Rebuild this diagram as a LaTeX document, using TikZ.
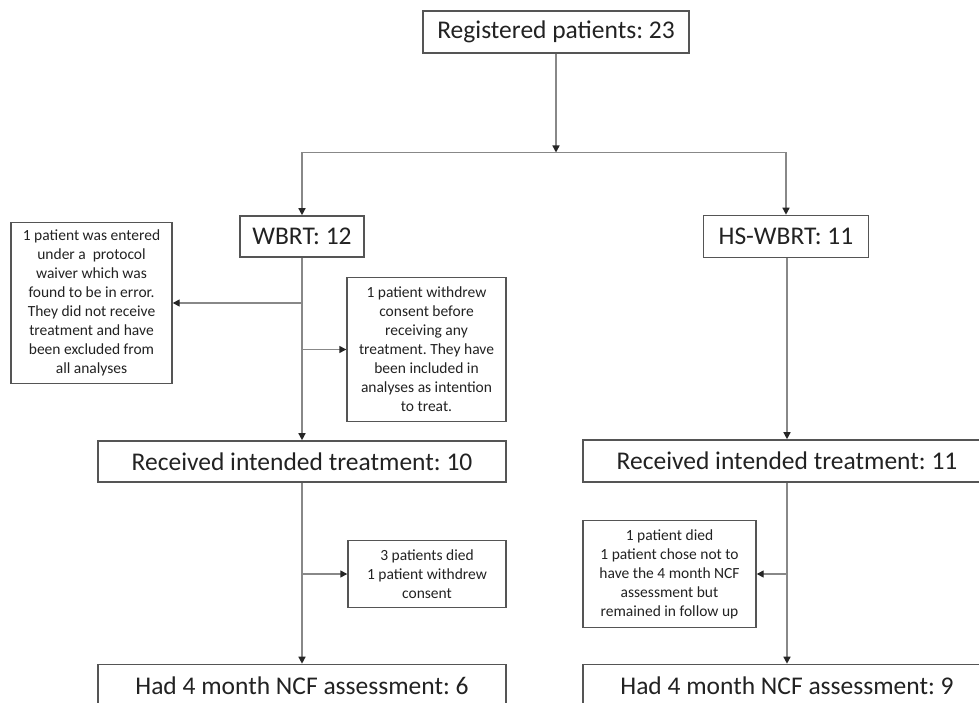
\documentclass[tikz,border=0pt]{standalone}
\usepackage{fontspec}
\setmainfont{Carlito}
\frenchspacing
\usetikzlibrary{arrows.meta}
\definecolor{boxline}{HTML}{555555}
\definecolor{conline}{HTML}{888888}
\definecolor{txt}{HTML}{222222}
\tikzset{
  bigbox/.style={draw=boxline, line width=1.6pt, text=txt, inner sep=0pt,
    font=\fontsize{25.5}{30}\selectfont},
  notebox/.style={draw=boxline, line width=1.4pt, text=txt, inner sep=0pt, align=center,
    font=\fontsize{15.5}{19}\selectfont},
  con/.style={draw=conline, line width=1.4pt},
  arr/.style={con, -{Triangle[length=7pt,width=7pt,color=black!85]}}
}
\begin{document}
\begin{tikzpicture}[x=1pt,y=-1pt]
\useasboundingbox (0,0) rectangle (979,703);
\clip (0,0) rectangle (979,703);
\fill[white] (0,0) rectangle (979,703);

\node[bigbox, minimum width=266pt, minimum height=42pt] (reg) at (556,32) {Registered patients: 23};
\node[bigbox, minimum width=124pt, minimum height=41pt] (wbrt) at (302,236.5) {WBRT: 12};
\node[bigbox, minimum width=165pt, minimum height=42pt] (hs) at (786,236.5) {HS-WBRT: 11};

\node[notebox, minimum width=161pt, minimum height=161pt] (noteA) at (91.5,303) {1 patient was entered\\under a\ \ protocol\\waiver which was\\found to be in error.\\They did not receive\\treatment and have\\been excluded from\\all analyses};
\node[notebox, minimum width=159pt, minimum height=144pt] (noteB) at (426.5,349.5) {1 patient withdrew\\consent before\\receiving any\\treatment. They have\\been included in\\analyses as intention\\to treat.};

\node[bigbox, minimum width=408pt, minimum height=41pt] (recL) at (302,461.5) {Received intended treatment: 10};
\node[bigbox, minimum width=408pt, minimum height=42pt] (recR) at (787,461) {Received intended treatment: 11};

\node[notebox, minimum width=158pt, minimum height=67pt] (noteC) at (427,574) {3 patients died\\1 patient withdrew\\consent};
\node[notebox, minimum width=173pt, minimum height=107pt] (noteD) at (669.5,574) {1 patient died\\1 patient chose not to\\have the 4 month NCF\\assessment but\\remained in follow up};

\node[bigbox, minimum width=408pt, minimum height=42pt] (hadL) at (302,685.5) {Had 4 month NCF assessment: 6};
\node[bigbox, minimum width=408pt, minimum height=42pt] (hadR) at (787,685.5) {Had 4 month NCF assessment: 9};

\coordinate (split) at (556,152.5);
\draw[arr] (reg) -- (split);
\draw[arr] (split) -| (wbrt);
\draw[arr] (split) -| (hs);

\draw[arr] (wbrt) -- (recL);
\draw[arr] (wbrt.south |- noteA.east) -- (noteA.east);
\draw[arr] (wbrt.south |- noteB.west) -- (noteB.west);

\draw[arr] (hs.south -| recR.north) -- (recR.north);

\draw[arr] (recL) -- (hadL);
\draw[arr] (recL.south |- noteC.west) -- (noteC.west);

\draw[arr] (recR) -- (hadR);
\draw[arr] (recR.south |- noteD.east) -- (noteD.east);
\end{tikzpicture}
\end{document}
